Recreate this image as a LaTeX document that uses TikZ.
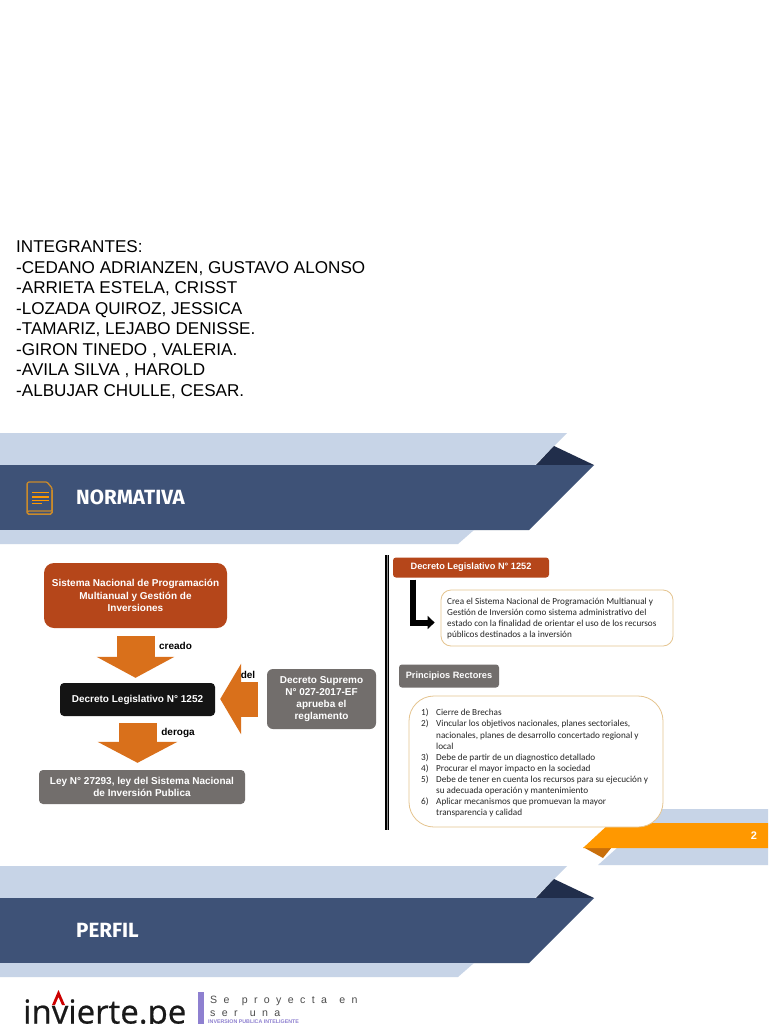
\documentclass[tikz,border=0pt]{standalone}
\usepackage{fontspec}
\usetikzlibrary{arrows.meta,calc}
\setmainfont{Liberation Sans}
\newfontfamily\headfont{Fira Sans}
\newfontfamily\bodyfont{Carlito}
\newfontfamily\logofont[FakeBold=0.6]{Open Sans}
\newfontfamily\spacedfont[LetterSpace=60]{Liberation Sans}
\definecolor{lightband}{HTML}{C7D4E7}
\definecolor{darkband}{HTML}{3E5277}
\definecolor{navyfold}{HTML}{212E4B}
\definecolor{rust}{HTML}{B5461A}
\definecolor{arrowor}{HTML}{D9701B}
\definecolor{slategrey}{HTML}{726E6C}
\definecolor{tan}{HTML}{E5C48F}
\definecolor{bandor}{HTML}{FF9800}
\definecolor{bandordk}{HTML}{C96F0B}
\definecolor{iconor}{HTML}{C98A2B}
\definecolor{purplebar}{HTML}{8E80D0}
\tikzset{
  box/.style={rounded corners=#1,inner sep=0pt,align=center,text=white,font=\fontsize{10}{12.2}\selectfont\bfseries},
  blockarrow/.style={draw=arrowor,line cap=butt,-{Triangle[width=#1,length=21pt,fill=arrowor]}},
  lbl/.style={inner sep=0pt,font=\fontsize{10}{12}\selectfont\bfseries,text=black},
  names/.style={inner sep=0pt,align=left,anchor=north west,font=\fontsize{17.1}{20.55}\selectfont,text=black},
  bodytxt/.style={inner sep=0pt,align=left,anchor=north west,text=black!85,font=\bodyfont\fontsize{9.2}{11.05}\selectfont},
  bandtitle/.style={inner sep=0pt,anchor=west,text=white,font=\headfont\bfseries\fontsize{20.6}{24}\selectfont}
}
\newcommand{\litem}[2]{\makebox[15pt][l]{#1}#2}
\newcommand{\lcont}[1]{\hspace*{15pt}#1}
\begin{document}
\begin{tikzpicture}[x=1pt,y=-1pt]
\useasboundingbox (0,0) rectangle (768,1024);
\clip (0,0) rectangle (768,1024);
\fill[white] (0,0) rectangle (768,1024);

% ---- first band
\fill[lightband] (0,433) -- (567,433) -- (535,465) -- (0,465) -- cycle;
\fill[navyfold] (536,465) -- (554,446) -- (594,465) -- cycle;
\fill[darkband] (0,465) -- (594,465) -- (529,530) -- (0,530) -- cycle;
\fill[lightband] (0,530) -- (474,530) -- (458,544) -- (0,544) -- cycle;
% ---- second band
\fill[lightband] (0,866) -- (567,866) -- (535,898) -- (0,898) -- cycle;
\fill[navyfold] (536,898) -- (554,879) -- (594,898) -- cycle;
\fill[darkband] (0,898) -- (594,898) -- (529,963) -- (0,963) -- cycle;
\fill[lightband] (0,963) -- (474,963) -- (458,977) -- (0,977) -- cycle;
% ---- orange page band
\fill[lightband] (598,865) -- (617,848) -- (768,848) -- (768,865) -- cycle;
\fill[lightband] (630,823) -- (648,809) -- (768,809) -- (768,823) -- cycle;
\fill[bandordk] (583,847) -- (612,847) -- (603,858) -- cycle;
\fill[bandor] (583,848) -- (610,823) -- (768,823) -- (768,848) -- cycle;
\node[inner sep=0pt,text=white,font=\fontsize{11}{13}\selectfont\bfseries] (pagenum) at (754,836) {2};

% ---- members
\node[names] (members) at (16,240.5) {INTEGRANTES:\\-CEDANO ADRIANZEN, GUSTAVO ALONSO\\-ARRIETA ESTELA, CRISST\\-LOZADA QUIROZ, JESSICA\\-TAMARIZ, LEJABO DENISSE.\\-GIRON TINEDO , VALERIA.\\-AVILA SILVA , HAROLD\\-ALBUJAR CHULLE, CESAR.};

% ---- band titles
\node[bandtitle] (normativa) at (76,497.5) {NORMATIVA};
\node[bandtitle] (perfil) at (76,930.5) {PERFIL};

% ---- document icon
\draw[iconor,line width=1.5pt,rounded corners=1.5pt] (27,484) -- (27,514) -- (52,514) -- (52,490);
\draw[iconor,line width=1.3pt,rounded corners=1pt] (27,484) -- (28,482) -- (47,482) -- (52,488) -- (52,511) -- (28,511) -- (27,512);
\draw[bandor,line width=1.4pt] (32,492.5) -- (49,492.5) (32,497) -- (49,497) (32,500.7) -- (49,500.7) (32,503.5) -- (42,503.5);

% ---- left flow
\node[box=10pt,fill=rust,minimum width=183pt,minimum height=65pt] (sys) at (135.5,595.5) {Sistema Nacional de Programación\\Multianual y Gestión de\\Inversiones};
\node[box=4pt,fill=black!92,minimum width=155pt,minimum height=33pt] (dl) at (137.5,699.5) {Decreto Legislativo N° 1252};
\node[box=6pt,fill=slategrey,minimum width=109pt,minimum height=60pt] (ds) at (321.5,699) {Decreto Supremo\\N° 027-2017-EF\\aprueba el\\reglamento};
\node[box=4pt,fill=slategrey,minimum width=206pt,minimum height=34pt] (ley) at (142,787) {Ley N° 27293, ley del Sistema Nacional\\de Inversión Publica};

\draw[blockarrow=77pt,line width=38pt,shorten <=8pt,shorten >=5pt] (sys.south) -- (sys.south |- dl.north);
\draw[blockarrow=79pt,line width=38pt,shorten <=7pt,shorten >=7pt] (dl.south) -- (dl.south |- ley.north);
\draw[blockarrow=70pt,line width=35pt,shorten <=9pt,shorten >=5pt] (ds.west) -- (ds.west -| dl.east);

\node[lbl] (creado) at (175.5,645.5) {creado};
\node[lbl] (deroga) at (178,732.5) {deroga};
\node[lbl] (del) at (248,674.5) {del};

% ---- divider
\fill[black] (385,555) rectangle (389,830);
\fill[black!45] (386.6,555) rectangle (387.2,830);

% ---- right column
\node[box=3pt,fill=rust,minimum width=156pt,minimum height=20pt,font=\fontsize{9.2}{11}\selectfont\bfseries] (dl2) at (471,567.5) {Decreto Legislativo N° 1252};
\node[box=10pt,draw=tan,fill=white,line width=.8pt,minimum width=232pt,minimum height=56pt] (crea) at (557,618) {};
\node[bodytxt] (creatxt) at (447,597.5) {Crea el Sistema Nacional de Programación Multianual y\\Gestión de Inversión como sistema administrativo del\\estado con la finalidad de orientar el uso de los recursos\\públicos destinados a la inversión};
\coordinate (lstart) at ($(dl2.south west)+(20.5,2)$);
\coordinate (lend) at ($(crea.west)+(-6,4.5)$);
\draw[black,line width=6pt,-{Triangle[width=13pt,length=7pt,fill=black]}] (lstart) |- (lend);

\node[box=3pt,fill=slategrey,minimum width=100pt,minimum height=23pt,font=\fontsize{9.2}{11}\selectfont\bfseries] (pr) at (449,676) {Principios Rectores};
\node[box=25pt,draw=tan,fill=white,line width=.8pt,minimum width=254pt,minimum height=131pt] (lista) at (536,761.5) {};
\node[bodytxt] (listatxt) at (421,709) {\litem{1)}{Cierre de Brechas}\\\litem{2)}{Vincular los objetivos nacionales, planes sectoriales,}\\\lcont{nacionales, planes de desarrollo concertado regional y}\\\lcont{local}\\\litem{3)}{Debe de partir de un diagnostico detallado}\\\litem{4)}{Procurar el mayor impacto en la sociedad}\\\litem{5)}{Debe de tener en cuenta los recursos para su ejecución y}\\\lcont{su adecuada operación y mantenimiento}\\\litem{6)}{Aplicar mecanismos que promuevan la mayor}\\\lcont{transparencia y calidad}};

% ---- logo
\node[inner sep=0pt,anchor=base west,text=black!90,font=\logofont\fontsize{33}{40}\selectfont] (logo) at (23,1023.5) {invierte.pe};
\fill[red!80!black] (52,1005) -- (58.5,990) -- (65,1005) -- (62,1005) -- (58.5,997) -- (55,1005) -- cycle;
\fill[purplebar] (198,992) rectangle (204,1024);
\node[inner sep=0pt,anchor=base west,text=black!70,font=\spacedfont\fontsize{10.6}{12}\selectfont] (tag1) at (210,1003) {Se\hspace{3pt} proyecta\hspace{3pt} en};
\node[inner sep=0pt,anchor=base west,text=black!70,font=\spacedfont\fontsize{10.6}{12}\selectfont] (tag2) at (210,1016) {ser\hspace{3pt} una};
\node[inner sep=0pt,anchor=base west,text=purplebar,font=\fontsize{5.3}{7}\selectfont\bfseries] (tag3) at (208,1023) {INVERSION PUBLICA INTELIGENTE};
\end{tikzpicture}
\end{document}
